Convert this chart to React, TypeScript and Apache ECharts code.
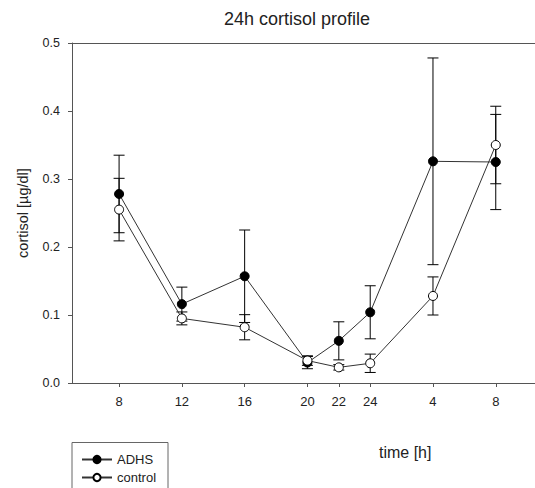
import React, { useEffect, useRef } from "react";
import * as echarts from "echarts";

// time of day in hours since midnight of day 1 (28 = 4h, 32 = 8h next day)
const hours = [8, 12, 16, 20, 22, 24, 28, 32];
const xTickValues = [8, 12, 16, 20, 22, 24, 28, 32];
const adhs = [0.278, 0.116, 0.157, 0.030, 0.062, 0.104, 0.326, 0.325];
const adhsErr = [0.057, 0.025, 0.068, 0.009, 0.028, 0.039, 0.152, 0.070];
const control = [0.255, 0.095, 0.082, 0.033, 0.023, 0.029, 0.128, 0.350];
const controlErr = [0.046, 0.0095, 0.0185, 0.007, 0.004, 0.0135, 0.028, 0.057];

const FONT = "'Liberation Sans', Arial, sans-serif";
const AXIS_COLOR = "#555";

function errorSeries(name: string, vals: number[], errs: number[]) {
  return {
    name,
    type: "custom",
    z: 2,
    silent: true,
    encode: { x: 0, y: [1, 2] },
    data: hours.map((h, i) => [h, vals[i] - errs[i], vals[i] + errs[i]]),
    renderItem: (params: any, api: any) => {
      const x = api.value(0);
      const lo = api.coord([x, api.value(1)]);
      const hi = api.coord([x, api.value(2)]);
      const w = 5.5;
      const st = { stroke: "#000", lineWidth: 1 };
      return {
        type: "group",
        children: [
          { type: "line", shape: { x1: lo[0], y1: lo[1], x2: hi[0], y2: hi[1] }, style: st },
          { type: "line", shape: { x1: lo[0] - w, y1: lo[1], x2: lo[0] + w, y2: lo[1] }, style: st },
          { type: "line", shape: { x1: hi[0] - w, y1: hi[1], x2: hi[0] + w, y2: hi[1] }, style: st },
        ],
      };
    },
  };
}

export default function App() {
  const ref = useRef<HTMLDivElement>(null);
  useEffect(() => {
    if (!ref.current) return;
    const chart = echarts.init(ref.current, null, { renderer: "svg" });
    chart.setOption({
      animation: false,
      textStyle: { fontFamily: FONT },
      title: {
        text: "24h cortisol profile",
        left: 224,
        top: 10,
        padding: 0,
        textStyle: { fontSize: 18, fontWeight: "normal", color: "#222", fontFamily: FONT },
      },
      legend: {
        data: ["ADHS", "control"],
        orient: "vertical",
        left: 72,
        top: 443,
        padding: [10, 10, 0, 9],
        itemGap: 5,
        itemWidth: 30,
        itemHeight: 9,
        textStyle: { fontSize: 13, color: "#222", fontFamily: FONT },
      },
      graphic: [
        {
          type: "rect",
          shape: { x: 72, y: 442.5, width: 96, height: 70 },
          style: { fill: "none", stroke: "#666", lineWidth: 1 },
          silent: true,
        },
        {
          type: "text",
          x: 379,
          y: 452,
          style: {
            text: "time [h]",
            fontSize: 16,
            fontFamily: FONT,
            fill: "#222",
            verticalAlign: "middle",
          },
        },
      ],
      grid: { left: 72, right: 0, top: 43, bottom: 105 },
      xAxis: [
        {
          type: "value",
          min: 5,
          max: 34.5,
          axisLine: { show: true, lineStyle: { color: AXIS_COLOR, width: 1 } },
          axisTick: { show: true, length: 4, customValues: xTickValues, lineStyle: { color: AXIS_COLOR } },
          axisLabel: {
            customValues: xTickValues,
            margin: 12,
            fontSize: 13,
            color: "#222",
            fontFamily: FONT,
            formatter: (v: number) => String(v > 24 ? v - 24 : v),
          },
          splitLine: { show: false },
        },
        {
          type: "value",
          position: "top",
          min: 5,
          max: 34.5,
          axisLine: { show: true, onZero: false, lineStyle: { color: AXIS_COLOR, width: 1 } },
          axisTick: { show: false },
          axisLabel: { show: false },
          splitLine: { show: false },
        },
      ],
      yAxis: {
        type: "value",
        min: 0,
        max: 0.5,
        interval: 0.1,
        name: "cortisol [µg/dl]",
        nameLocation: "middle",
        nameGap: 42,
        nameTextStyle: { fontSize: 14.5, color: "#222", fontFamily: FONT },
        axisLine: { show: true, lineStyle: { color: AXIS_COLOR, width: 1 } },
        axisTick: { show: true, length: 4, lineStyle: { color: AXIS_COLOR } },
        axisLabel: {
          margin: 12,
          fontSize: 12.5,
          color: "#222",
          fontFamily: FONT,
          formatter: (v: number) => v.toFixed(1),
        },
        splitLine: { show: false },
      },
      series: [
        errorSeries("ADHS err", adhs, adhsErr),
        errorSeries("control err", control, controlErr),
        {
          name: "ADHS",
          type: "line",
          z: 3,
          data: hours.map((h, i) => [h, adhs[i]]),
          symbol: "circle",
          symbolSize: 9,
          showAllSymbol: true,
          lineStyle: { color: "#333", width: 1 },
          itemStyle: { color: "#000", borderColor: "#000", borderWidth: 1 },
        },
        {
          name: "control",
          type: "line",
          z: 4,
          data: hours.map((h, i) => [h, control[i]]),
          symbol: "circle",
          symbolSize: 9,
          showAllSymbol: true,
          lineStyle: { color: "#333", width: 1 },
          itemStyle: { color: "#fff", borderColor: "#000", borderWidth: 1 },
        },
      ],
    });
    return () => chart.dispose();
  }, []);
  return (
    <div
      ref={ref}
      style={{ position: "fixed", left: 0, top: 0, width: 535, height: 488, background: "#fff" }}
    />
  );
}
